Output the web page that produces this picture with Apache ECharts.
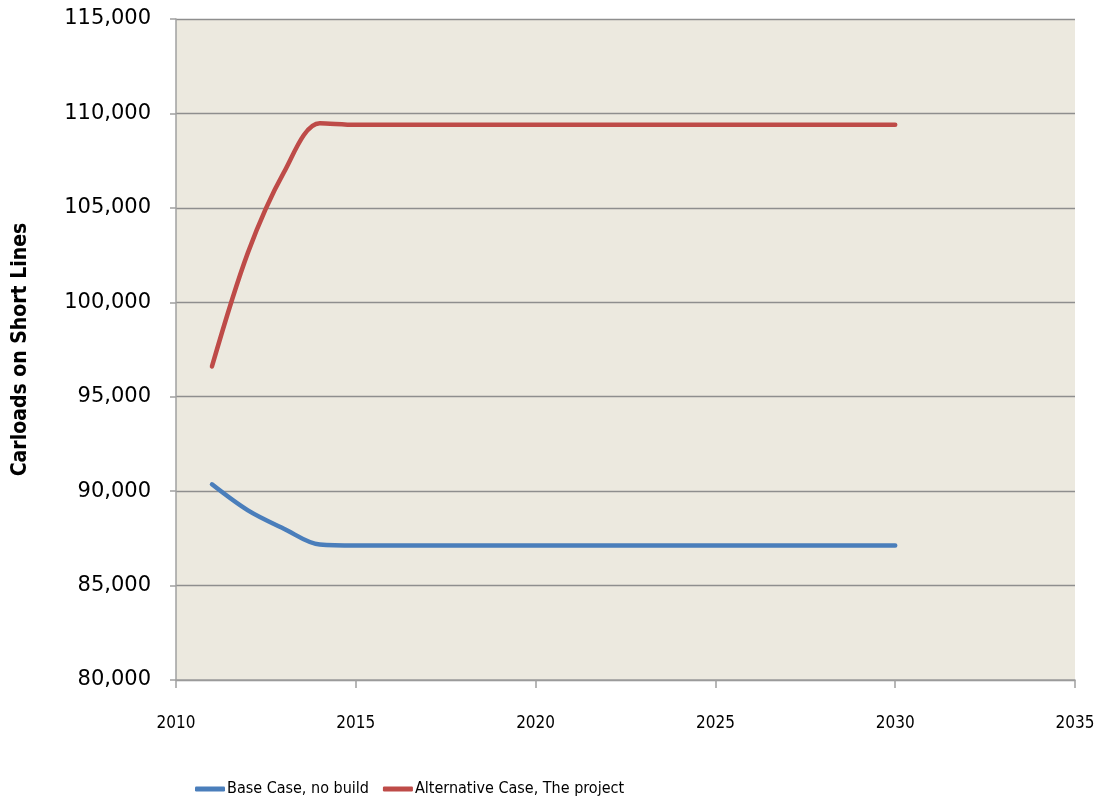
<!DOCTYPE html>
<html>
<head>
<meta charset="utf-8">
<title>Carloads on Short Lines</title>
<script src="https://cdn.jsdelivr.net/npm/echarts@6/dist/echarts.min.js"></script>
<style>
  html, body { margin: 0; padding: 0; background: #ffffff; }
  #chart { width: 1111px; height: 803px; }
</style>
</head>
<body>
<div id="chart"></div>
<script>
// Annual short-line carload forecasts, 2011-2030
const years = [2011, 2012, 2013, 2014, 2015, 2016, 2017, 2018, 2019, 2020,
               2021, 2022, 2023, 2024, 2025, 2026, 2027, 2028, 2029, 2030];
const baseCase = [90360, 88980, 88010, 87170, 87120, 87120, 87120, 87120, 87120, 87120,
                  87120, 87120, 87120, 87120, 87120, 87120, 87120, 87120, 87120, 87120];
const alternativeCase = [96600, 102630, 106880, 109480, 109400, 109400, 109400, 109400, 109400, 109400,
                         109400, 109400, 109400, 109400, 109400, 109400, 109400, 109400, 109400, 109400];
const seriesNames = ['Base Case, no build', 'Alternative Case, The project'];
const yAxisTitle = 'Carloads on Short Lines';

const pairs = (xs, ys) => xs.map((x, i) => [x, ys[i]]);
const narrow = "'DejaVu Sans Condensed', 'Liberation Sans Narrow', sans-serif";

const chart = echarts.init(document.getElementById('chart'), null, { renderer: 'canvas' });
chart.setOption({
  animation: false,
  backgroundColor: '#ffffff',
  grid: {
    left: 176, right: 36, top: 19, bottom: 123,
    show: true, backgroundColor: '#ECE9DF', borderWidth: 0
  },
  legend: {
    left: 190, top: 776,
    itemWidth: 30, itemHeight: 5, itemGap: 14,
    icon: 'roundRect',
    textStyle: { fontFamily: narrow, fontSize: 16, color: '#000', padding: [0, 0, 0, -3] },
    data: seriesNames
  },
  xAxis: {
    type: 'value', min: 2010, max: 2035, interval: 5,
    axisLine: { show: true, onZero: false, lineStyle: { color: '#A0A0A0', width: 1.5 } },
    axisTick: { show: true, length: 8, lineStyle: { color: '#A0A0A0', width: 1.5 } },
    splitLine: { show: false },
    axisLabel: { margin: 35, fontFamily: narrow, fontSize: 17, color: '#000', formatter: v => String(v) }
  },
  yAxis: {
    type: 'value', min: 80000, max: 115000, interval: 5000,
    name: yAxisTitle, nameLocation: 'middle', nameGap: 145, nameRotate: 90,
    nameTextStyle: { fontFamily: narrow, fontSize: 21, fontWeight: 'bold', color: '#000' },
    axisLine: { show: true, lineStyle: { color: '#A0A0A0', width: 1.5 } },
    axisTick: { show: true, length: 6, lineStyle: { color: '#A0A0A0', width: 1.5 } },
    splitLine: { show: true, lineStyle: { color: '#8E8E8E', width: 1.3 } },
    axisLabel: {
      margin: 25, fontFamily: "'DejaVu Sans', Verdana, sans-serif", fontSize: 21, color: '#000',
      formatter: v => v.toLocaleString('en-US')
    }
  },
  series: [
    {
      name: seriesNames[0], type: 'line', data: pairs(years, baseCase),
      smooth: 0.33, showSymbol: false, symbol: 'none',
      lineStyle: { color: '#4A7EBB', width: 4.5, cap: 'round' },
      itemStyle: { color: '#4A7EBB' }
    },
    {
      name: seriesNames[1], type: 'line', data: pairs(years, alternativeCase),
      smooth: 0.33, showSymbol: false, symbol: 'none',
      lineStyle: { color: '#BE4B48', width: 4.5, cap: 'round' },
      itemStyle: { color: '#BE4B48' }
    }
  ]
});
</script>
</body>
</html>
